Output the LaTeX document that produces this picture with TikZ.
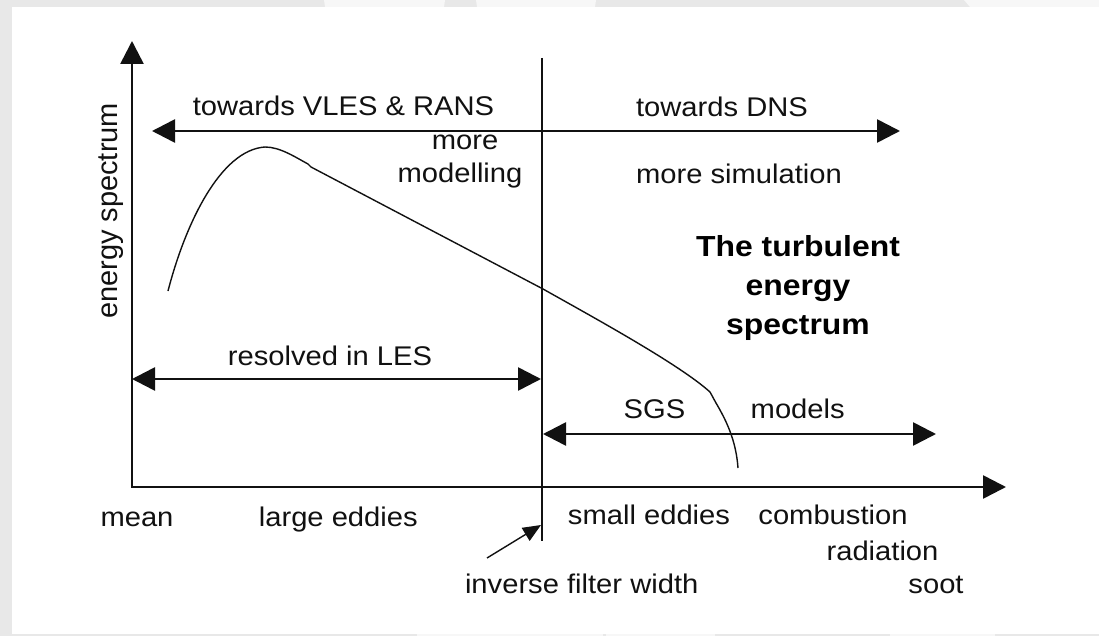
\documentclass[tikz,border=0pt]{standalone}
\usepackage{fontspec}
\setmainfont{Liberation Sans}
\usetikzlibrary{arrows.meta}
\definecolor{framegray}{HTML}{E8E8E8}
\definecolor{patchgray}{HTML}{F7F7F7}
\definecolor{inkc}{HTML}{111111}
\begin{document}
\begin{tikzpicture}[x=1pt,y=-1pt,
  lbl/.style={font=\fontsize{27}{32}\selectfont, xscale=1.08, anchor=base, inner sep=0pt, text=inkc},
  ttl/.style={font=\fontsize{29}{34}\selectfont\bfseries, xscale=1.1, anchor=base, inner sep=0pt},
  bigtip/.tip={Triangle[length=23pt,width=23pt]},
  heavy/.style={line width=2.6pt, draw=inkc},
  thin/.style={line width=1.4pt, draw=inkc},
  smalltip/.tip={Triangle[length=18pt,width=15pt]}]
% background frame
\useasboundingbox (0,0) rectangle (1099,636);
\fill[framegray] (0,0) rectangle (1099,636);
\fill[patchgray] (324,0) -- (445,0) -- (444,7) -- (325,7) -- cycle;
\fill[patchgray] (476,0) -- (596,0) -- (595,7) -- (477,7) -- cycle;
\fill[patchgray] (964,0) -- (1099,0) -- (1099,7) -- (970,7) -- cycle;
\fill[patchgray] (417,634) -- (603,634) -- (603,636) -- (417,636) -- cycle;
\fill[patchgray] (606,634) -- (715,634) -- (715,636) -- (606,636) -- cycle;
\fill[patchgray] (890,634) -- (995,634) -- (995,636) -- (890,636) -- cycle;
\fill[white] (12,7) rectangle (1099,634);

% coordinates
\coordinate (ytop) at (132,41);
\coordinate (origin) at (132,487);
\coordinate (xend) at (1006,487);
\coordinate (ftop) at (542,58);
\coordinate (fbot) at (542,541);
\coordinate (tl) at (152,131);
\coordinate (tr) at (900,131);
\coordinate (rl) at (132,379);
\coordinate (rr) at (541,379);
\coordinate (sl) at (543,434);
\coordinate (sr) at (936,434);
\coordinate (ifrom) at (487,558);
\coordinate (ito) at (541,525);

% axes
\draw[heavy, {bigtip}-{bigtip}] (ytop) -- (origin) -- (xend);
% filter line
\draw[heavy] (ftop) -- (fbot);
% arrows
\draw[heavy, {bigtip}-{bigtip}] (tl) -- (tr);
\draw[heavy, {bigtip}-{bigtip}] (rl) -- (rr);
\draw[heavy, {bigtip}-{bigtip}] (sl) -- (sr);
\draw[thin, -{smalltip}] (ifrom) -- (ito);

% spectrum curve
\draw[thin, line join=round] (168,291) .. controls (185,225) and (220,150) .. (265,147)
  .. controls (280,147) and (295,157) .. (308,164) -- (311,167)
  -- (543,289) .. controls (600,321) and (680,365) .. (710,392)
  -- (716,403) .. controls (726,420) and (736,440) .. (738,468);

% labels
\node[lbl] (vles) at (343.5,116) {towards VLES \& RANS};
\node[lbl] (more1) at (465,150) {more};
\node[lbl] (modelling) at (460,183) {modelling};
\node[lbl] (dns) at (722,116.5) {towards DNS};
\node[lbl] (moresim) at (739,184) {more simulation};
\node[ttl] (t1) at (798,256.7) {The turbulent};
\node[ttl] (t2) at (798,295) {energy};
\node[ttl] (t3) at (798,334) {spectrum};
\node[lbl] (resolved) at (330,365) {resolved in LES};
\node[lbl] (sgs) at (654.5,418) {SGS};
\node[lbl] (models) at (797.7,418) {models};
\node[lbl] (mean) at (137,526) {mean};
\node[lbl] (large) at (338.3,526) {large eddies};
\node[lbl] (small) at (649,524.5) {small eddies};
\node[lbl] (comb) at (833,524.5) {combustion};
\node[lbl] (rad) at (882.5,560) {radiation};
\node[lbl] (soot) at (936,593.3) {soot};
\node[lbl] (ifw) at (581.7,593.3) {inverse filter width};
\node[font=\fontsize{29}{34}\selectfont, anchor=base, inner sep=0pt, rotate=90, text=inkc] (es) at (117,211) {energy spectrum};
\end{tikzpicture}
\end{document}
